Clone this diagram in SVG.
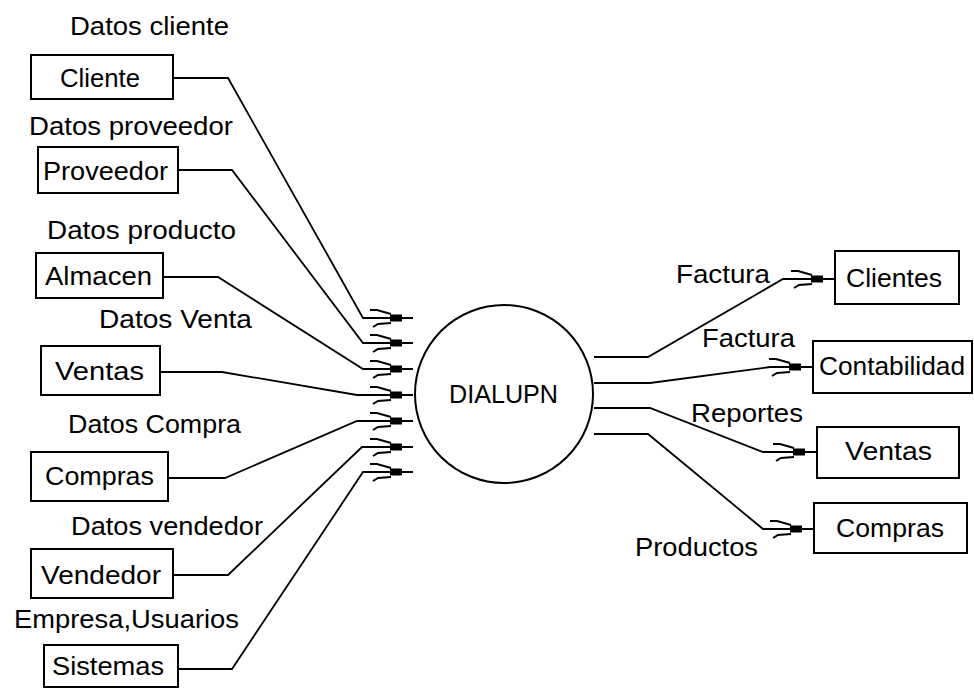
<svg xmlns="http://www.w3.org/2000/svg" xmlns:xlink="http://www.w3.org/1999/xlink" width="974" height="688" viewBox="0 0 974 688">
  <style>
    .box { fill: #ffffff; stroke: #000000; stroke-width: 2; }
    .proc { fill: #ffffff; stroke: #000000; stroke-width: 2; }
    .flow { fill: none; stroke: #000000; stroke-width: 1.8; stroke-linejoin: miter; }
    .txt { font-family: "Liberation Sans", Arial, sans-serif; font-size: 25px; fill: #000000; }
  </style>
  <defs>
    <!-- flow arrowhead, tip at (0,0), pointing right -->
    <g id="ah">
      <polyline points="-43,-8 -36,-8 -22,-4" fill="none" stroke="#000" stroke-width="2"/>
      <polyline points="-40,9 -35,6 -22,5" fill="none" stroke="#000" stroke-width="2"/>
      <rect x="-23" y="-3.5" width="12" height="7" fill="#000"/>
    </g>
  </defs>

  <rect width="974" height="688" fill="#ffffff"/>

  <!-- central process -->
  <g id="dialupn">
    <circle class="proc" cx="504" cy="394" r="89"/>
    <text class="txt" x="449" y="403" textLength="109" lengthAdjust="spacingAndGlyphs">DIALUPN</text>
  </g>

  <!-- external entities, inputs -->
  <g id="cliente">
    <rect class="box" x="31" y="55" width="142" height="44"/>
    <text class="txt" x="60" y="87" textLength="80" lengthAdjust="spacingAndGlyphs">Cliente</text>
  </g>
  <g id="proveedor">
    <rect class="box" x="38" y="147" width="140" height="46"/>
    <text class="txt" x="43" y="180" textLength="125" lengthAdjust="spacingAndGlyphs">Proveedor</text>
  </g>
  <g id="almacen">
    <rect class="box" x="36" y="253" width="127" height="45"/>
    <text class="txt" x="45" y="285" textLength="107" lengthAdjust="spacingAndGlyphs">Almacen</text>
  </g>
  <g id="ventas-in">
    <rect class="box" x="41" y="346" width="119" height="49"/>
    <text class="txt" x="55" y="380" textLength="89" lengthAdjust="spacingAndGlyphs">Ventas</text>
  </g>
  <g id="compras-in">
    <rect class="box" x="31" y="452" width="137" height="49"/>
    <text class="txt" x="45" y="485" textLength="109" lengthAdjust="spacingAndGlyphs">Compras</text>
  </g>
  <g id="vendedor">
    <rect class="box" x="31" y="549" width="142" height="49"/>
    <text class="txt" x="41" y="584" textLength="120" lengthAdjust="spacingAndGlyphs">Vendedor</text>
  </g>
  <g id="sistemas">
    <rect class="box" x="44" y="645" width="134" height="42"/>
    <text class="txt" x="52" y="675" textLength="112" lengthAdjust="spacingAndGlyphs">Sistemas</text>
  </g>

  <!-- external entities, outputs -->
  <g id="clientes">
    <rect class="box" x="835" y="251" width="124" height="53"/>
    <text class="txt" x="846" y="287" textLength="96" lengthAdjust="spacingAndGlyphs">Clientes</text>
  </g>
  <g id="contabilidad">
    <rect class="box" x="813" y="341" width="159" height="52"/>
    <text class="txt" x="819" y="375" textLength="146" lengthAdjust="spacingAndGlyphs">Contabilidad</text>
  </g>
  <g id="ventas-out">
    <rect class="box" x="817" y="427" width="142" height="51"/>
    <text class="txt" x="845" y="460" textLength="87" lengthAdjust="spacingAndGlyphs">Ventas</text>
  </g>
  <g id="compras-out">
    <rect class="box" x="814" y="503" width="153" height="50"/>
    <text class="txt" x="836" y="537" textLength="108" lengthAdjust="spacingAndGlyphs">Compras</text>
  </g>

  <!-- data flows -->
  <g id="connectors">
    <polyline class="flow" points="173,78 228,78 363,318 413,318"/>
    <polyline class="flow" points="178,170 232,170 363,343 413,343"/>
    <polyline class="flow" points="163,277 218,277 363,369 413,369"/>
    <polyline class="flow" points="160,372 222,372 357,395 413,395"/>
    <polyline class="flow" points="168,478 225,478 357,421 413,421"/>
    <polyline class="flow" points="173,575 228,575 362,447 413,447"/>
    <polyline class="flow" points="178,669 232,669 363,472 413,472"/>
    <use xlink:href="#ah" href="#ah" x="413" y="318"/>
    <use xlink:href="#ah" href="#ah" x="413" y="343"/>
    <use xlink:href="#ah" href="#ah" x="413" y="369"/>
    <use xlink:href="#ah" href="#ah" x="413" y="395"/>
    <use xlink:href="#ah" href="#ah" x="413" y="421"/>
    <use xlink:href="#ah" href="#ah" x="413" y="447"/>
    <use xlink:href="#ah" href="#ah" x="413" y="472"/>

    <polyline class="flow" points="594,357 648,357 783,279 835,279"/>
    <polyline class="flow" points="594,383 650,383 770,367 813,367"/>
    <polyline class="flow" points="594,408 650,408 763,452 817,452"/>
    <polyline class="flow" points="594,434 648,434 763,529 814,529"/>
    <use xlink:href="#ah" href="#ah" x="834" y="279"/>
    <use xlink:href="#ah" href="#ah" x="812" y="367"/>
    <use xlink:href="#ah" href="#ah" x="816" y="452"/>
    <use xlink:href="#ah" href="#ah" x="813" y="529"/>

    <!-- flow labels -->
    <text class="txt" x="70" y="35" textLength="159" lengthAdjust="spacingAndGlyphs">Datos cliente</text>
    <text class="txt" x="29" y="135" textLength="204" lengthAdjust="spacingAndGlyphs">Datos proveedor</text>
    <text class="txt" x="47" y="239" textLength="189" lengthAdjust="spacingAndGlyphs">Datos producto</text>
    <text class="txt" x="99" y="328" textLength="153" lengthAdjust="spacingAndGlyphs">Datos Venta</text>
    <text class="txt" x="68" y="433" textLength="173" lengthAdjust="spacingAndGlyphs">Datos Compra</text>
    <text class="txt" x="71" y="535" textLength="192" lengthAdjust="spacingAndGlyphs">Datos vendedor</text>
    <text class="txt" x="14" y="628" textLength="225" lengthAdjust="spacingAndGlyphs">Empresa,Usuarios</text>
    <text class="txt" x="676" y="283" textLength="94" lengthAdjust="spacingAndGlyphs">Factura</text>
    <text class="txt" x="702" y="347" textLength="93" lengthAdjust="spacingAndGlyphs">Factura</text>
    <text class="txt" x="691" y="422" textLength="112" lengthAdjust="spacingAndGlyphs">Reportes</text>
    <text class="txt" x="635" y="556" textLength="123" lengthAdjust="spacingAndGlyphs">Productos</text>
  </g>
</svg>
